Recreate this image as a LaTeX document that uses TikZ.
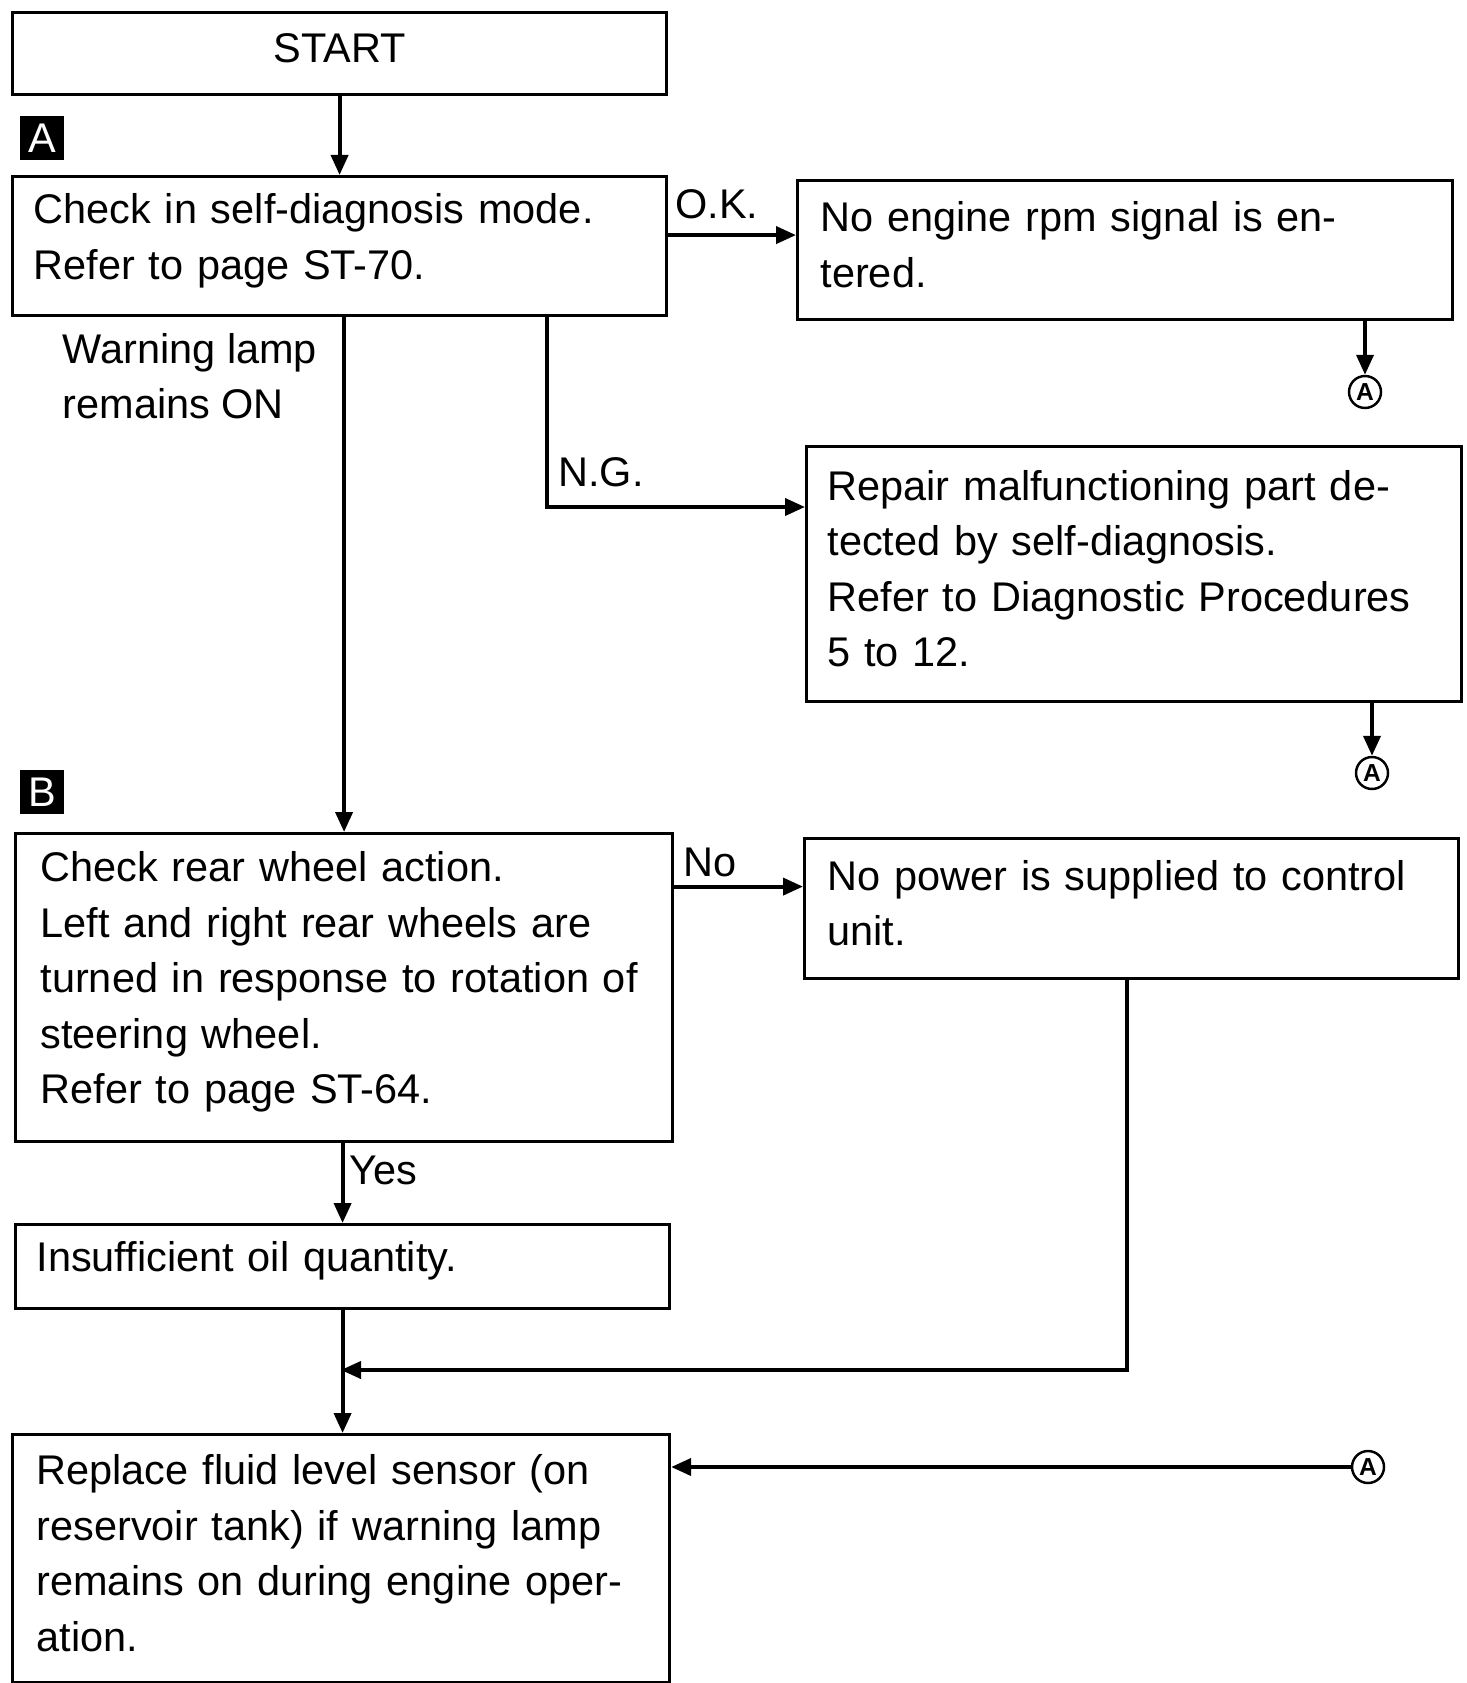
\documentclass[tikz,border=0pt]{standalone}
\usepackage{fontspec}
\setmainfont{Liberation Sans}
\usetikzlibrary{arrows.meta}

\begin{document}
\begin{tikzpicture}[every node/.style={font=\fontsize{11.8}{15.8}\selectfont},
  box/.style={draw,line width=0.9pt,anchor=north west,align=left,inner ysep=0pt,
    execute at end node={\endgraf\vspace*{0.11cm}}},
  arr/.style={line width=1.1pt,-{Triangle[length=0.2cm,width=0.17cm]}},
  tag/.style={fill=black,text=white,minimum size=0.44cm,inner sep=0pt},
  con/.style={circle,draw,line width=0.7pt,minimum size=0.32cm,inner sep=0pt,font=\fontsize{7}{8}\selectfont\bfseries}]
\useasboundingbox (0,0) rectangle (14.66,-16.83);
\node[box,align=center,inner xsep=0.21cm,text width=6.12cm,minimum height=0.82cm] at(0.11,-0.11)(start){START};
\node[tag] at(0.42,-1.38)(tagA){A};
\node[box,inner xsep=0.21cm,text width=6.12cm,minimum height=1.39cm] at(0.11,-1.75)(check){Check in self-diagnosis mode.\\Refer to page ST-70.};
\node[box,inner xsep=0.23cm,text width=6.09cm,minimum height=1.39cm] at(7.96,-1.79)(noeng){No engine rpm signal is en-\\tered.};
\node[con] at(13.65,-3.92)(conA1){A};
\node[align=left,anchor=west,inner sep=0pt] at(0.62,-3.76)(lamp){Warning lamp\\remains ON};
\node[box,inner xsep=0.21cm,text width=6.13cm,minimum height=2.55cm] at(8.05,-4.45)(repair){Repair malfunctioning part de-\\tected by self-diagnosis.\\Refer to Diagnostic Procedures\\5 to 12.};
\node[con] at(13.72,-7.73)(conA2){A};
\node[tag] at(0.42,-7.92)(tagB){B};
\node[box,inner xsep=0.25cm,text width=6.07cm,minimum height=3.08cm] at(0.14,-8.32)(rear){Check rear wheel action.\\Left and right rear wheels are\\turned in response to rotation of\\steering wheel.\\Refer to page ST-64.};
\node[box,inner xsep=0.23cm,text width=6.08cm,minimum height=1.40cm] at(8.03,-8.37)(nopower){No power is supplied to control\\unit.};
\node[box,inner xsep=0.21cm,text width=6.12cm,minimum height=0.84cm] at(0.14,-12.23)(insuff){Insufficient oil quantity.};
\node[box,inner xsep=0.24cm,text width=6.09cm,minimum height=2.48cm] at(0.11,-14.33)(replace){Replace fluid level sensor (on\\reservoir tank) if warning lamp\\remains on during engine oper-\\ation.};
\node[con] at(13.68,-14.67)(conA3){A};
% labels on connectors
\node at(7.17,-2.04)(ok){O.K.};
\node at(6.01,-4.72)(ng){N.G.};
\node at(7.10,-8.62)(no){No};
\node at(3.83,-11.70)(yes){Yes};
\coordinate (ngcorner) at(5.47,-5.07);
\coordinate (merge) at(3.41,-13.70);
\draw[arr](start)--(start|-check.north);
\draw[arr]([yshift=0.11cm]check.east)--([yshift=0.11cm]check.east-|noeng.west);
\draw[arr](noeng.south-|conA1)--(conA1);
\draw[arr](rear.north|-check.south)--(rear.north);
\draw[arr](check.south-|ngcorner)--(ngcorner)--(ngcorner-|repair.west);
\draw[arr](repair.south-|conA2)--(conA2);
\draw[arr]([yshift=1.01cm]rear.east)--([yshift=1.01cm]rear.east-|nopower.west);
\draw[arr](insuff.north|-rear.south)--(insuff.north);
\draw[arr](nopower.south-|11.27,0)|-(merge);
\draw[arr](insuff.south)--(insuff.south|-replace.north);
\draw[arr](conA3)--(conA3-|replace.east);
\end{tikzpicture}
\end{document}
